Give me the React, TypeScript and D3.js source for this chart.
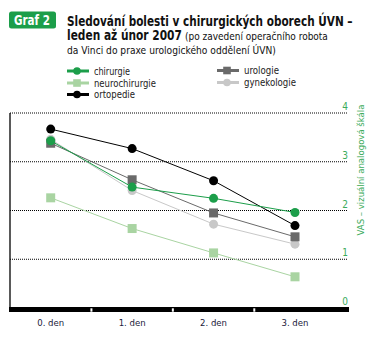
import React, { useLayoutEffect, useRef, useState } from "react";
import * as d3 from "d3";

const categories = ["0. den", "1. den", "2. den", "3. den"];
const chirurgie = [3.43, 2.48, 2.25, 1.96];
const urologie = [3.38, 2.63, 1.95, 1.46];
const neurochirurgie = [2.26, 1.63, 1.13, 0.64];
const ortopedie = [3.67, 3.27, 2.61, 1.69];
const gynekologie = [3.46, 2.41, 1.72, 1.31];
const yTicks = [0, 1, 2, 3, 4];

const FONT = "'DejaVu Sans Condensed', 'Liberation Sans Narrow', 'DejaVu Sans', sans-serif";
const GREEN = "#1c9e4a";
const LIGHTGREEN = "#a9d4a2";
const DARKGRAY = "#6a6a6a";
const LIGHTGRAY = "#c8c8c8";
const TICKGREEN = "#3bab5b";

type S = { name: string; values: number[]; color: string; shape: "circle" | "square" };
const series: S[] = [
  { name: "neurochirurgie", values: neurochirurgie, color: LIGHTGREEN, shape: "square" },
  { name: "gynekologie", values: gynekologie, color: LIGHTGRAY, shape: "circle" },
  { name: "urologie", values: urologie, color: DARKGRAY, shape: "square" },
  { name: "ortopedie", values: ortopedie, color: "#000", shape: "circle" },
  { name: "chirurgie", values: chirurgie, color: GREEN, shape: "circle" },
];

const legend = [
  { name: "chirurgie", color: GREEN, shape: "circle", col: 0, row: 0, w: 36 },
  { name: "neurochirurgie", color: LIGHTGREEN, shape: "square", col: 0, row: 1, w: 62 },
  { name: "ortopedie", color: "#000", shape: "circle", col: 0, row: 2, w: 41 },
  { name: "urologie", color: DARKGRAY, shape: "square", col: 1, row: 0, w: 35 },
  { name: "gynekologie", color: LIGHTGRAY, shape: "circle", col: 1, row: 1, w: 52 },
];

function FitText(props: {
  x: number; y: number; w: number; size: number; bold?: boolean; fill: string; children: string;
}) {
  const ref = useRef<SVGTextElement>(null);
  const [sx, setSx] = useState(1);
  useLayoutEffect(() => {
    if (ref.current) {
      const len = ref.current.getComputedTextLength();
      if (len > 0) setSx(props.w / len);
    }
  }, [props.w, props.children]);
  return (
    <text
      ref={ref}
      transform={`translate(${props.x},${props.y}) scale(${sx},1)`}
      fontSize={props.size}
      fontWeight={props.bold ? "bold" : "normal"}
      fill={props.fill}
    >
      {props.children}
    </text>
  );
}

export default function App() {
  const W = 377, H = 338;
  const x = d3.scalePoint<string>().domain(categories).range([50.7, 295]);
  const y = d3.scaleLinear().domain([0, 4]).range([308, 113]);
  const step = x.step();
  const line = d3.line<number>().x((_, i) => x(categories[i])!).y((d) => y(d));

  const marker = (shape: string, color: string, cx: number, cy: number, r: number, key: string) =>
    shape === "circle" ? (
      <circle key={key} cx={cx} cy={cy} r={r} fill={color} />
    ) : (
      <rect key={key} x={cx - r} y={cy - r} width={2 * r} height={2 * r} fill={color} />
    );

  return (
    <svg width={W} height={H} style={{ position: "absolute", left: 0, top: 0 }} fontFamily={FONT}>
      <rect width={W} height={H} fill="#fff" />
      {/* Header */}
      <rect x={9} y={11.5} width={47} height={17} rx={2.5} fill={GREEN} />
      <FitText x={14} y={25} w={36} size={14} bold fill="#fff">Graf 2</FitText>
      <FitText x={67} y={26} w={286} size={14} bold fill="#111">
        Sledování bolesti v chirurgických oborech ÚVN –
      </FitText>
      <FitText x={67} y={39.5} w={115} size={14} bold fill="#111">leden až únor 2007</FitText>
      <FitText x={185} y={39.5} w={143} size={11} fill="#111">(po zavedení operačního robota</FitText>
      <FitText x={67} y={53.5} w={209} size={11} fill="#111">
        da Vinci do praxe urologického oddělení ÚVN)
      </FitText>

      {/* Legend */}
      {legend.map((l) => {
        const lx = l.col === 0 ? 67 : 217;
        const ly = l.col === 0 ? [71, 83, 94.5][l.row] : [70.5, 82.5][l.row];
        return (
          <g key={l.name}>
            <line x1={lx} x2={lx + 22} y1={ly} y2={ly} stroke={l.color} strokeWidth={3} />
            {marker(l.shape, l.color, lx + 10, ly, 3.8, "m")}
            <FitText x={lx + 27} y={ly + 3.5} w={l.w} size={10.5} fill="#222">{l.name}</FitText>
          </g>
        );
      })}

      {/* Grid */}
      {yTicks.filter((t) => t > 0).map((t) => (
        <line key={t} x1={10} x2={348} y1={y(t)} y2={y(t)} stroke="#000" strokeWidth={1} strokeDasharray="1,1" />
      ))}
      {yTicks.map((t) => (
        <text key={"t" + t} x={345} y={y(t) - 3} textAnchor="middle" fontSize={10} fill={TICKGREEN}>
          {t}
        </text>
      ))}
      <text
        transform={`translate(364,170) rotate(-90)`}
        textAnchor="middle"
        fontSize={9.5}
        fill={TICKGREEN}
      >
        VAS – vizuální analogová škála
      </text>
      <line x1={10} x2={10} y1={y(4)} y2={y(0)} stroke="#000" strokeWidth={1.3} />
      <rect x={9} y={307} width={340} height={5} fill="#000" />
      {categories.slice(1).map((c) => (
        <rect key={c} x={x(c)! - step / 2 - 1} y={308.3} width={2} height={3.4} fill="#fff" />
      ))}
      {categories.map((c) => (
        <text key={c} x={x(c)} y={326} textAnchor="middle" fontSize={9.5} fill="#1a1a3a">
          {c}
        </text>
      ))}

      {/* Series */}
      {series.map((s) => (
        <g key={s.name}>
          <path d={line(s.values)!} fill="none" stroke={s.color} strokeWidth={1} />
          {s.values.map((v, i) => marker(s.shape, s.color, x(categories[i])!, y(v), 4.5, s.name + i))}
        </g>
      ))}
    </svg>
  );
}
